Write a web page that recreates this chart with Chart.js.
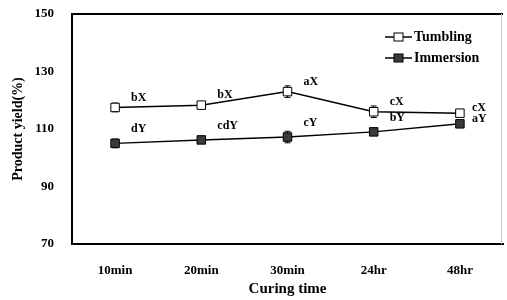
<!DOCTYPE html>
<html>
<head>
<meta charset="utf-8">
<script src="https://cdn.jsdelivr.net/npm/chart.js@4"></script>
<style>
  html, body { margin: 0; padding: 0; background: #fff; overflow: hidden; }
  #wrap { width: 507px; height: 300px; overflow: hidden; }
  canvas { display: block; }
</style>
</head>
<body>
<div id="wrap"><canvas id="yieldChart" width="510" height="300"></canvas></div>
<script>
// chart data
const categories = ['10min', '20min', '30min', '24hr', '48hr'];
const tumbling = [117.5, 118.3, 123, 116, 115.5];
const tumblingErr = [1.5, 1, 2, 2, 1];
const tumblingLetters = ['bX', 'bX', 'aX', 'cX', 'cX'];
const immersion = [105, 106.2, 107.2, 109, 111.8];
const immersionErr = [1.5, 1, 2, 1, 1];
const immersionLetters = ['dY', 'cdY', 'cY', 'bY', 'aY'];
const yTicks = [70, 90, 110, 130, 150];

const serif = 'Liberation Serif, Times New Roman, serif';

// error bars drawn under the markers
const errorBars = {
    id: 'errorBars',
    beforeDatasetsDraw(chart) {
        const ctx = chart.ctx;
        const y = chart.scales.y;
        ctx.save();
        ctx.strokeStyle = '#000';
        ctx.lineWidth = 1;
        chart.data.datasets.forEach((ds, i) => {
            const meta = chart.getDatasetMeta(i);
            meta.data.forEach((pt, j) => {
                const top = y.getPixelForValue(ds.data[j] + ds.errors[j]);
                const bot = y.getPixelForValue(ds.data[j] - ds.errors[j]);
                ctx.beginPath();
                ctx.moveTo(pt.x, top); ctx.lineTo(pt.x, bot);
                ctx.moveTo(pt.x - 3, top); ctx.lineTo(pt.x + 3, top);
                ctx.moveTo(pt.x - 3, bot); ctx.lineTo(pt.x + 3, bot);
                ctx.stroke();
            });
        });
        ctx.restore();
    }
};

// significance letters next to each point
const letterLabels = {
    id: 'letterLabels',
    afterDatasetsDraw(chart) {
        const ctx = chart.ctx;
        ctx.save();
        ctx.font = 'bold 12px ' + serif;
        ctx.fillStyle = '#000';
        ctx.textAlign = 'left';
        ctx.textBaseline = 'middle';
        chart.data.datasets.forEach((ds, i) => {
            const meta = chart.getDatasetMeta(i);
            meta.data.forEach((pt, j) => {
                const last = j === meta.data.length - 1;
                const dx = last ? 12 : 16;
                const dy = last ? -5 : ds.letterDy;
                ctx.fillText(ds.letters[j], pt.x + dx, pt.y + dy);
            });
        });
        ctx.restore();
    }
};

// top frame line + legend box
const frameAndLegend = {
    id: 'frameAndLegend',
    afterDraw(chart) {
        const ctx = chart.ctx;
        const area = chart.chartArea;
        ctx.save();
        ctx.strokeStyle = '#000';
        ctx.lineWidth = 2;
        ctx.beginPath();
        ctx.moveTo(area.left, area.top);
        ctx.lineTo(area.right, area.top);
        ctx.stroke();
        // faint right edge
        ctx.strokeStyle = '#c8c8c8';
        ctx.lineWidth = 1;
        ctx.beginPath();
        ctx.moveTo(area.right - 1.5, area.top);
        ctx.lineTo(area.right - 1.5, area.bottom);
        ctx.stroke();

        ctx.strokeStyle = '#000';
        ctx.font = 'bold 14px ' + serif;
        ctx.textBaseline = 'middle';
        chart.data.datasets.forEach((ds, i) => {
            const y = 37 + i * 21;
            ctx.lineWidth = 1.5;
            ctx.beginPath();
            ctx.moveTo(385, y);
            ctx.lineTo(412, y);
            ctx.stroke();
            ctx.fillStyle = ds.pointBackgroundColor;
            ctx.lineWidth = 1;
            ctx.fillRect(394, y - 4, 9, 8);
            ctx.strokeRect(394, y - 4, 9, 8);
            ctx.fillStyle = '#000';
            ctx.fillText(ds.label, 414, y);
        });
        ctx.restore();
    }
};

new Chart(document.getElementById('yieldChart'), {
    type: 'line',
    data: {
        labels: categories,
        datasets: [
            {
                label: 'Tumbling',
                data: tumbling,
                errors: tumblingErr,
                letters: tumblingLetters,
                letterDy: -10,
                borderColor: '#000',
                borderWidth: 1.5,
                pointStyle: 'rect',
                pointRadius: 6,
                pointBackgroundColor: '#fff',
                pointBorderColor: '#000',
                pointBorderWidth: 1
            },
            {
                label: 'Immersion',
                data: immersion,
                errors: immersionErr,
                letters: immersionLetters,
                letterDy: -14,
                borderColor: '#000',
                borderWidth: 1.5,
                pointStyle: 'rect',
                pointRadius: 6,
                pointBackgroundColor: '#3a3a3a',
                pointBorderColor: '#000',
                pointBorderWidth: 1
            }
        ]
    },
    options: {
        responsive: false,
        animation: false,
        layout: { padding: { top: 14, right: 2, left: 0, bottom: 0 } },
        plugins: {
            legend: { display: false },
            tooltip: { enabled: false }
        },
        scales: {
            x: {
                offset: true,
                grid: { display: false },
                border: { display: true, color: '#000', width: 2 },
                ticks: {
                    color: '#000',
                    padding: 11,
                    font: { family: serif, size: 13, weight: 'bold' }
                },
                title: {
                    display: true,
                    text: 'Curing time',
                    color: '#000',
                    padding: { top: 2, bottom: 2 },
                    font: { family: serif, size: 15, weight: 'bold' }
                },
                afterFit(scale) {
                    scale.height = 56;
                    scale.paddingLeft = 0;
                    scale.paddingRight = 0;
                }
            },
            y: {
                min: 70,
                max: 150,
                afterBuildTicks(scale) { scale.ticks = yTicks.map(v => ({ value: v })); },
                grid: { display: false },
                border: { display: true, color: '#000', width: 2 },
                ticks: {
                    color: '#000',
                    padding: 10,
                    font: { family: serif, size: 13, weight: 'bold' }
                },
                title: {
                    display: true,
                    text: 'Product yield(%)',
                    color: '#000',
                    padding: { top: 10, bottom: 0 },
                    font: { family: serif, size: 14, weight: 'bold' }
                },
                afterFit(scale) {
                    scale.width = 72;
                    scale.paddingTop = 0;
                    scale.paddingBottom = 0;
                }
            }
        }
    },
    plugins: [errorBars, letterLabels, frameAndLegend]
});
</script>
</body>
</html>
